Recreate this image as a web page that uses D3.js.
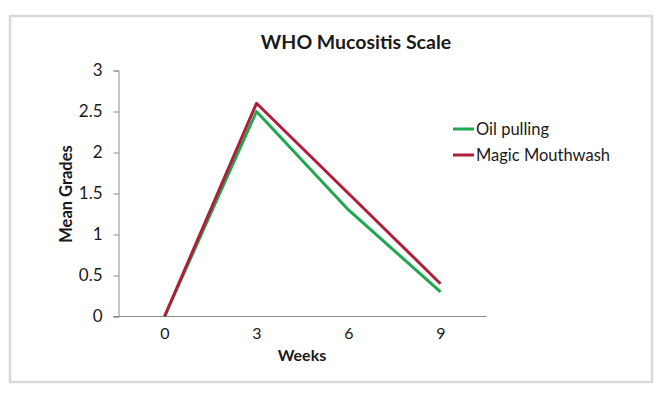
<!DOCTYPE html>
<html>
<head>
<meta charset="utf-8">
<script src="https://cdn.jsdelivr.net/npm/d3@7"></script>
<style>
  html, body { margin: 0; padding: 0; background: #fff; }
  svg { display: block; }
  text { font-family: Lato, "Open Sans", sans-serif; fill: #1a1a1a; }
</style>
</head>
<body>
<svg id="chart" width="661" height="393"></svg>
<script>
const weeks = ["0", "3", "6", "9"];
const oilPulling = [0, 2.5, 1.3, 0.3];
const magicMouthwash = [0, 2.6, 1.5, 0.4];
const yTicks = [0, 0.5, 1, 1.5, 2, 2.5, 3];
const seriesNames = ["Oil pulling", "Magic Mouthwash"];
const seriesColors = ["#1fa84f", "#b01f3a"];

(function () {
const svg = d3.select("#chart");

// outer frame
svg.append("rect")
  .attr("x", 10).attr("y", 16).attr("width", 642).attr("height", 366)
  .attr("fill", "#fff").attr("stroke", "#d9d9d9").attr("stroke-width", 2.5);

const pLeft = 118.5, pRight = 486.5, pTop = 70.5, pBottom = 316.5;

const x = d3.scalePoint().domain(weeks).range([pLeft, pRight]).padding(0.5);
const y = d3.scaleLinear().domain([0, 3]).range([pBottom, pTop]);

// y axis
const yAxis = svg.append("g").attr("transform", `translate(${pLeft},0)`)
  .call(d3.axisLeft(y).tickValues(yTicks).tickSize(5).tickPadding(11).tickFormat(d3.format("")));
yAxis.select(".domain").attr("stroke", "#898989").attr("stroke-width", 1);
yAxis.selectAll(".tick line").attr("stroke", "#898989");
yAxis.selectAll("text").style("font-size", "17px").attr("fill", "#1a1a1a");

// x axis (line only, no ticks)
const xAxis = svg.append("g").attr("transform", `translate(0,${pBottom})`)
  .call(d3.axisBottom(x).tickSize(0).tickPadding(11));
xAxis.select(".domain").attr("stroke", "#898989").attr("stroke-width", 1)
  .attr("d", `M${pLeft - 5},0H${pRight}`);
xAxis.selectAll("text").style("font-size", "16px").attr("fill", "#1a1a1a");

// lines
const line = d3.line().x((d, i) => x(weeks[i])).y(d => y(d));
[oilPulling, magicMouthwash].forEach((vals, k) => {
  svg.append("path").datum(vals)
    .attr("d", line)
    .attr("fill", "none")
    .attr("stroke", seriesColors[k])
    .attr("stroke-width", 3)
    .attr("stroke-linejoin", "round");
});

// title
svg.append("text").attr("x", 356).attr("y", 48.5).attr("text-anchor", "middle")
  .style("font-size", "19.5px").style("font-weight", "bold").text("WHO Mucositis Scale");

// axis titles
svg.append("text").attr("x", 302).attr("y", 361).attr("text-anchor", "middle")
  .style("font-size", "16px").style("font-weight", "bold").text("Weeks");
svg.append("text").attr("transform", "translate(72,194) rotate(-90)").attr("text-anchor", "middle")
  .style("font-size", "16.5px").style("font-weight", "bold").text("Mean Grades");

// legend
const legend = svg.append("g");
seriesNames.forEach((name, k) => {
  const ly = 129 + k * 26;
  legend.append("line").attr("x1", 453).attr("x2", 474).attr("y1", ly).attr("y2", ly)
    .attr("stroke", seriesColors[k]).attr("stroke-width", 3);
  legend.append("text").attr("x", 476).attr("y", ly + 6)
    .style("font-size", "16.5px").text(name);
});
})();
</script>
</body>
</html>
